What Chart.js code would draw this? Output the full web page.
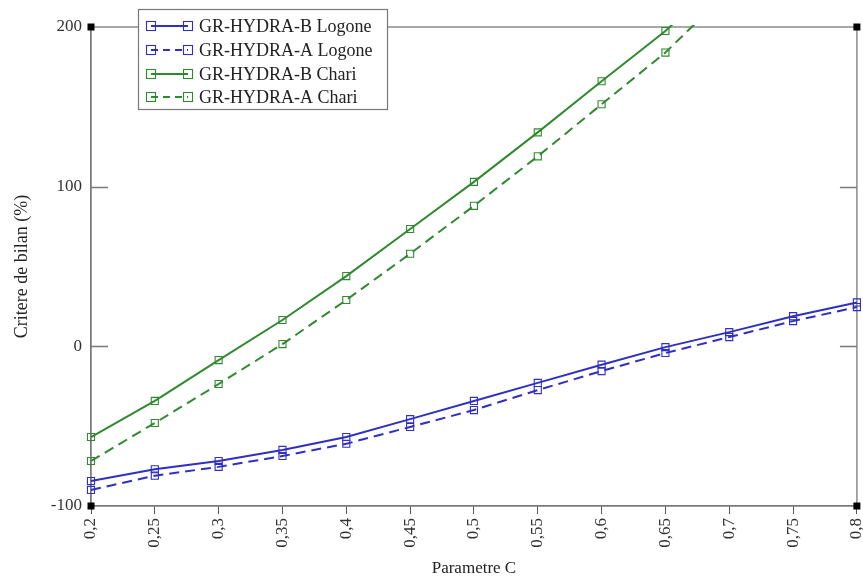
<!DOCTYPE html>
<html>
<head>
<meta charset="utf-8">
<script src="https://cdn.jsdelivr.net/npm/chart.js@4/dist/chart.umd.min.js"></script>
<style>
  html, body { margin: 0; padding: 0; background: #fff; }
  #wrap { width: 863px; height: 579px; position: relative; }
</style>
</head>
<body>
<div id="wrap"><canvas id="chart"></canvas></div>
<script>
// Parametre C values (x axis)
const paramC = [0.2, 0.25, 0.3, 0.35, 0.4, 0.45, 0.5, 0.55, 0.6, 0.65, 0.7, 0.75, 0.8];

// Critere de bilan (%)
const logoneB = [-84.4, -77, -71.8, -64.9, -56.8, -45.6, -34.2, -22.9, -11.5, -0.5, 8.9, 18.9, 27.5];
const logoneA = [-90, -81, -75.5, -68.7, -61, -50.5, -39.9, -27.4, -15.5, -4.2, 5.8, 15.8, 24.6];
const chariB  = [-56.8, -34.2, -8.6, 16.5, 44, 73.5, 103, 134, 166, 197.5, 235, null, null];
const chariA  = [-71.8, -48, -23.6, 1.4, 29, 58, 88, 119, 151.6, 184, 223, null, null];

const yTicks = [-100, 0, 100, 200];

const BLUE = "#2f2fc4";
const GREEN = "#2f8a2f";
const SERIF = "'Liberation Serif', 'DejaVu Serif', serif";

function pts(values) {
    return paramC.map((x, i) => ({ x: x, y: values[i] })).filter(p => p.y !== null);
}

function series(label, values, color, dashed) {
    return {
        label: label,
        data: pts(values),
        borderColor: color,
        backgroundColor: "rgba(0,0,0,0)",
        borderWidth: 2,
        borderDash: dashed ? [10, 6] : [],
        pointStyle: "rect",
        pointRadius: 5,
        pointBorderWidth: 1.1,
        pointBorderColor: color,
        pointBackgroundColor: "rgba(0,0,0,0)",
        tension: 0,
        clip: { left: 10, right: 10, top: 2, bottom: 10 },
    };
}

const datasets = [
    series("GR-HYDRA-B Logone", logoneB, BLUE, false),
    series("GR-HYDRA-A Logone", logoneA, BLUE, true),
    series("GR-HYDRA-B Chari", chariB, GREEN, false),
    series("GR-HYDRA-A Chari", chariA, GREEN, true),
];

// frame, inward ticks, corner marks and the boxed legend
const framePlugin = {
    id: "frame",
    beforeDatasetsDraw(chart) {
        const { ctx, chartArea: a, scales } = chart;
        ctx.save();
        ctx.strokeStyle = "#7a7a7a";
        ctx.lineWidth = 1.3;
        ctx.strokeRect(a.left, a.top, a.right - a.left, a.bottom - a.top);
        // inward ticks on left and right borders
        yTicks.forEach(v => {
            if (v === -100 || v === 200) return;
            const y = Math.round(scales.y.getPixelForValue(v)) + 0.5;
            ctx.beginPath();
            ctx.moveTo(a.left, y); ctx.lineTo(a.left + 17, y);
            ctx.moveTo(a.right, y); ctx.lineTo(a.right - 17, y);
            ctx.stroke();
        });
        ctx.restore();
    },
    afterDraw(chart) {
        const { ctx, chartArea: a } = chart;
        ctx.save();
        // small black squares at the corners
        ctx.fillStyle = "#000";
        [[a.left, a.top], [a.right, a.top], [a.left, a.bottom], [a.right, a.bottom]].forEach(([x, y]) => {
            ctx.fillRect(x - 3.5, y - 3.5, 7, 7);
        });

        // legend box
        const bx = 138, by = 9, bw = 249, bh = 100;
        ctx.fillStyle = "#fff";
        ctx.fillRect(bx, by, bw, bh);
        ctx.strokeStyle = "#777";
        ctx.lineWidth = 1.2;
        ctx.strokeRect(bx + 0.5, by + 0.5, bw, bh);

        const rows = [26, 50, 74, 97];
        chart.data.datasets.forEach((ds, i) => {
            const y = rows[i];
            const x0 = 151, x1 = 188;
            ctx.strokeStyle = ds.borderColor;
            ctx.lineWidth = 2;
            ctx.setLineDash(ds.borderDash.length ? [7, 5] : []);
            ctx.beginPath();
            ctx.moveTo(x0, y); ctx.lineTo(x1, y);
            ctx.stroke();
            ctx.setLineDash([]);
            ctx.lineWidth = 1.1;
            ctx.strokeRect(x0 - 4.5, y - 4.5, 9, 9);
            ctx.strokeRect(x1 - 4.5, y - 4.5, 9, 9);
            ctx.fillStyle = "#222";
            ctx.font = "18px " + SERIF;
            ctx.textBaseline = "middle";
            ctx.textAlign = "left";
            ctx.fillText(ds.label, 199, y + 1);
        });
        ctx.restore();
    }
};

new Chart(document.getElementById("chart"), {
    type: "line",
    data: { datasets: datasets },
    plugins: [framePlugin],
    options: {
        responsive: true,
        maintainAspectRatio: false,
        animation: false,
        layout: { padding: { top: 27, right: 4, left: 2, bottom: 0 } },
        plugins: {
            legend: { display: false },
            tooltip: { enabled: false },
        },
        scales: {
            x: {
                type: "linear",
                min: 0.2,
                max: 0.8,
                afterBuildTicks(scale) {
                    scale.ticks = paramC.map(v => ({ value: v }));
                },
                afterFit(scale) {
                    scale.height = 73;
                    scale.paddingLeft = 0;
                    scale.paddingRight = 0;
                },
                ticks: {
                    autoSkip: false,
                    minRotation: 90,
                    maxRotation: 90,
                    padding: 4,
                    color: "#333",
                    font: { family: SERIF, size: 17 },
                    callback: v => String(Number(v.toFixed(2))).replace(".", ","),
                },
                grid: {
                    drawOnChartArea: false,
                    drawTicks: true,
                    tickLength: 8,
                    color: "#555",
                },
                border: { display: true, color: "#7a7a7a", width: 1.3 },
                title: {
                    display: true,
                    text: "Parametre C",
                    color: "#222",
                    font: { family: SERIF, size: 17 },
                    padding: { top: 0, bottom: 0 },
                },
            },
            y: {
                min: -100,
                max: 200,
                afterBuildTicks(scale) {
                    scale.ticks = yTicks.map(v => ({ value: v }));
                },
                afterFit(scale) {
                    scale.width = 89;
                    scale.paddingTop = 0;
                    scale.paddingBottom = 0;
                },
                ticks: {
                    padding: 9,
                    color: "#333",
                    font: { family: SERIF, size: 17 },
                },
                grid: { drawOnChartArea: false, drawTicks: false },
                border: { display: true, color: "#7a7a7a", width: 1.3 },
                title: {
                    display: true,
                    text: "Critere de bilan (%)",
                    color: "#222",
                    font: { family: SERIF, size: 18 },
                    padding: { top: 9, bottom: 0 },
                },
            },
        },
    },
});
</script>
</body>
</html>
